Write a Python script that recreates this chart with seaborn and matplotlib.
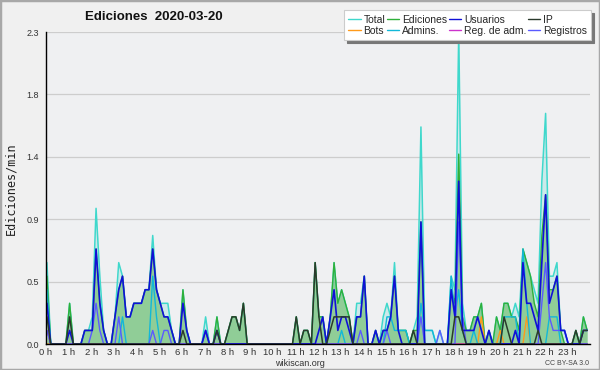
import numpy as np
import pandas as pd
import matplotlib
matplotlib.use("Agg")
import matplotlib.pyplot as plt
from matplotlib.lines import Line2D
from matplotlib.patches import Rectangle
import seaborn as sns

# ediciones por minuto, intervalos de 10 minutos (una fila = una hora)
total = [
    0.6, 0, 0, 0, 0, 0,          0.3, 0, 0, 0, 0.1, 0.1,
    0.2, 1.0, 0.5, 0.1, 0, 0,    0.2, 0.6, 0.5, 0.2, 0.2, 0.3,
    0.3, 0.3, 0.4, 0.4, 0.8, 0.4, 0.3, 0.3, 0.3, 0.1, 0, 0,
    0.4, 0.1, 0, 0, 0, 0,        0.2, 0, 0, 0.2, 0, 0,
    0.1, 0.2, 0.2, 0.1, 0.3, 0,  0, 0, 0, 0, 0, 0,
    0, 0, 0, 0, 0, 0,            0.2, 0, 0.1, 0.1, 0, 0.6,
    0.2, 0.2, 0, 0.2, 0.6, 0.3,  0.4, 0.3, 0.2, 0, 0.3, 0.3,
    0.5, 0, 0, 0.1, 0, 0.2,      0.3, 0.2, 0.6, 0.1, 0.1, 0.1,
    0, 0.1, 0.2, 1.6, 0.1, 0.1,  0.1, 0, 0.1, 0, 0, 0.5,
    0.4, 2.3, 0.3, 0.1, 0.1, 0.2, 0.2, 0.3, 0, 0.1, 0, 0.2,
    0.1, 0.3, 0.3, 0.2, 0.3, 0.2, 0.7, 0.6, 0.5, 0.4, 0.3, 1.2,
    1.7, 0.5, 0.5, 0.6, 0.1, 0.1, 0, 0, 0.1, 0, 0.2, 0.1,
]
ediciones = [
    0.5, 0, 0, 0, 0, 0,          0.3, 0, 0, 0, 0.1, 0.1,
    0.1, 0.7, 0.3, 0.1, 0, 0,    0.2, 0.4, 0.5, 0.2, 0.2, 0.3,
    0.3, 0.3, 0.4, 0.4, 0.7, 0.4, 0.3, 0.2, 0.2, 0.1, 0, 0,
    0.4, 0.1, 0, 0, 0, 0,        0.1, 0, 0, 0.2, 0, 0,
    0.1, 0.2, 0.2, 0.1, 0.3, 0,  0, 0, 0, 0, 0, 0,
    0, 0, 0, 0, 0, 0,            0.2, 0, 0.1, 0.1, 0, 0.6,
    0.2, 0.2, 0, 0.2, 0.6, 0.3,  0.4, 0.3, 0.2, 0, 0.2, 0.2,
    0.5, 0, 0, 0.1, 0, 0.1,      0.1, 0.2, 0.5, 0.1, 0.1, 0.1,
    0, 0.1, 0.1, 0.9, 0, 0,      0, 0, 0, 0, 0, 0.4,
    0.3, 1.4, 0.2, 0.1, 0.1, 0.2, 0.2, 0.3, 0, 0.1, 0, 0.2,
    0.1, 0.3, 0.3, 0.2, 0.2, 0.1, 0.7, 0.6, 0.5, 0.3, 0.2, 0.8,
    1.1, 0.4, 0.4, 0.5, 0.1, 0,  0, 0, 0.1, 0, 0.2, 0.1,
]
usuarios = [
    0.3, 0, 0, 0, 0, 0,          0.1, 0, 0, 0, 0.1, 0.1,
    0.1, 0.7, 0.3, 0.1, 0, 0,    0.2, 0.4, 0.5, 0.2, 0.2, 0.3,
    0.3, 0.3, 0.4, 0.4, 0.7, 0.4, 0.3, 0.2, 0.2, 0.1, 0, 0,
    0.3, 0.1, 0, 0, 0, 0,        0.1, 0, 0, 0.1, 0, 0,
    0, 0, 0, 0, 0, 0,            0, 0, 0, 0, 0, 0,
    0, 0, 0, 0, 0, 0,            0, 0, 0, 0, 0, 0,
    0.1, 0.2, 0, 0.2, 0.4, 0.1,  0.2, 0.2, 0.1, 0, 0.2, 0.2,
    0.5, 0, 0, 0.1, 0, 0.1,      0.1, 0.2, 0.5, 0.1, 0, 0,
    0, 0, 0, 0.9, 0, 0,          0, 0, 0, 0, 0, 0.4,
    0.2, 1.2, 0.1, 0.1, 0.1, 0.1, 0.2, 0.1, 0, 0.1, 0, 0,
    0, 0, 0, 0, 0.1, 0,          0.6, 0.3, 0.3, 0.2, 0.1, 0.6,
    1.1, 0.3, 0.4, 0.5, 0.1, 0.1, 0, 0, 0, 0, 0.1, 0.1,
]
ip = [
    0.2, 0, 0, 0, 0, 0,          0.2, 0, 0, 0, 0, 0,
    0, 0, 0, 0, 0, 0,            0, 0, 0, 0, 0, 0,
    0, 0, 0, 0, 0, 0,            0, 0, 0, 0, 0, 0,
    0.1, 0, 0, 0, 0, 0,          0, 0, 0, 0.1, 0, 0,
    0.1, 0.2, 0.2, 0.1, 0.3, 0,  0, 0, 0, 0, 0, 0,
    0, 0, 0, 0, 0, 0,            0.2, 0, 0.1, 0.1, 0, 0.6,
    0.2, 0, 0, 0.1, 0.2, 0.2,    0.2, 0.2, 0.2, 0, 0, 0,
    0, 0, 0, 0, 0, 0,            0, 0, 0, 0, 0, 0,
    0, 0.1, 0, 0, 0, 0,          0, 0, 0, 0, 0, 0,
    0.2, 0.2, 0.1, 0, 0, 0,      0, 0, 0, 0, 0, 0,
    0, 0.2, 0.1, 0, 0, 0,        0, 0, 0, 0, 0.1, 0,
    0, 0, 0, 0, 0, 0,            0, 0, 0.1, 0, 0.1, 0.1,
]
bots = [0] * 115 + [0.2, 0, 0, 0, 0, 0.1, 0, 0, 0, 0, 0, 0, 0.2] + [0] * 16
admins = [
    0.4, 0, 0, 0, 0, 0,          0, 0, 0, 0, 0, 0,
    0, 0, 0, 0, 0, 0,            0, 0, 0.2, 0, 0, 0,
    0, 0, 0, 0, 0.5, 0.2,        0, 0, 0, 0, 0, 0,
    0, 0, 0, 0, 0, 0,            0, 0, 0, 0, 0, 0,
    0, 0, 0, 0, 0, 0,            0, 0, 0, 0, 0, 0,
    0, 0, 0, 0, 0, 0,            0, 0, 0, 0, 0, 0,
    0, 0, 0, 0, 0, 0,            0.1, 0, 0, 0, 0, 0,
    0, 0, 0, 0, 0, 0,            0.2, 0.2, 0.1, 0.1, 0.1, 0.1,
    0, 0, 0, 0.3, 0.1, 0.1,      0.1, 0, 0, 0, 0, 0.5,
    0.2, 0.4, 0.1, 0, 0, 0.1,    0, 0, 0, 0, 0, 0,
    0, 0.2, 0.2, 0.2, 0.2, 0,    0.7, 0.3, 0, 0, 0, 0,
    0, 0.2, 0.2, 0.2, 0, 0,      0, 0, 0, 0, 0, 0,
]
reg_adm = [0.1] + [0] * 143
registros = [
    0.1, 0, 0, 0, 0, 0,          0, 0, 0, 0, 0, 0,
    0.1, 0.3, 0.1, 0, 0, 0,      0, 0.2, 0, 0, 0, 0,
    0, 0, 0, 0, 0.1, 0,          0, 0.1, 0.1, 0, 0, 0,
    0, 0, 0, 0, 0, 0,            0.1, 0, 0, 0, 0, 0,
    0, 0, 0, 0, 0, 0,            0, 0, 0, 0, 0, 0,
    0, 0, 0, 0, 0, 0,            0, 0, 0, 0, 0, 0,
    0, 0, 0, 0, 0, 0,            0, 0, 0, 0, 0, 0.1,
    0, 0, 0, 0, 0, 0,            0.1, 0, 0, 0, 0, 0,
    0, 0, 0, 0.2, 0, 0,          0, 0, 0.1, 0, 0, 0,
    0, 0.9, 0.2, 0, 0, 0,        0, 0, 0, 0, 0, 0,
    0, 0, 0, 0, 0, 0,            0, 0, 0, 0, 0, 0.3,
    0.6, 0.2, 0.1, 0.1, 0.1, 0.1, 0, 0, 0, 0, 0, 0,
]

horas = np.arange(144) / 6 + 1 / 24
hour_labels = [f"{h} h" for h in range(24)]

# (label, values, color, linewidth)
series = [
    ("Total", total, "#3fd8cc", 1.1),
    ("Ediciones", ediciones, "#2fb03a", 1.0),
    ("Bots", bots, "#ff9a1a", 1.0),
    ("Admins.", admins, "#12b8d8", 1.0),
    ("Reg. de adm.", reg_adm, "#cc33cc", 1.0),
    ("Registros", registros, "#5a5aff", 1.0),
    ("Usuarios", usuarios, "#1010d8", 1.2),
    ("IP", ip, "#2a3a2c", 1.1),
]
legend_order = ["Total", "Bots", "Ediciones", "Admins.", "Usuarios",
                "Reg. de adm.", "IP", "Registros"]

sns.set_style("white", {"axes.facecolor": "#eff0f2"})
plt.rcParams["font.family"] = ["Liberation Sans", "DejaVu Sans"]

fig = plt.figure(figsize=(6, 3.7), dpi=100, facecolor="#f0f0f0")
ax = fig.add_axes([46 / 600, 26 / 370, 544 / 600, 312 / 370])

ax.fill_between(horas, total, color="#8fdcdc", alpha=0.35, lw=0)
ax.fill_between(horas, ediciones, color="#7cc47c", alpha=0.75, lw=0)

colors = {}
for name, vals, col, lw in series:
    colors[name] = col
    sns.lineplot(x=horas, y=vals, color=col, linewidth=lw, ax=ax)

ax.set_xlim(0, 24)
ax.set_ylim(0, 2.3)
yt = np.linspace(0, 2.3, 6)
ax.set_yticks(yt)
ax.set_yticklabels([f"{v:.1f}" for v in yt])
ax.set_yticks(np.linspace(0, 2.3, 26), minor=True)
ax.set_xticks(np.arange(24))
ax.set_xticklabels(hour_labels)
ax.set_xticks(np.arange(0, 24, 1 / 6), minor=True)
ax.yaxis.grid(True, which="major", color="#cdcdcd", lw=0.9)
ax.xaxis.grid(False)
ax.set_axisbelow(True)
for s in ["top", "right"]:
    ax.spines[s].set_visible(False)
for s in ["left", "bottom"]:
    ax.spines[s].set_color("black")
    ax.spines[s].set_linewidth(1.0)
ax.tick_params(axis="both", which="major", direction="out", length=4,
               width=0.8, colors="black", labelsize=6.5, pad=1,
               labelcolor="#333333")
ax.tick_params(axis="both", which="minor", direction="out", length=2.5,
               width=0.8, colors="black")
ax.tick_params(axis="x", which="major", length=3, pad=0, labelsize=6.8)
ax.set_xlabel("")
ax.set_ylabel("")

fig.text(0.018, 0.49, "Ediciones/min", rotation=90, ha="center", va="center",
         fontsize=8.5, family=["DejaVu Sans Mono"], color="#222222")
fig.text(0.257, 0.955, "Ediciones  2020-03-20", ha="center", va="center",
         fontsize=9.5, fontweight="bold", color="#111111")
fig.text(0.5, 0.0165, "wikiscan.org", ha="center", va="center",
         fontsize=6.5, color="#333333")
fig.text(0.982, 0.0165, "CC BY-SA 3.0", ha="right", va="center",
         fontsize=5, color="#444444")

handles = [Line2D([], [], color=colors[n], lw=1.0) for n in legend_order]
leg = fig.legend(handles, legend_order, ncol=4, loc="upper right",
                 bbox_to_anchor=(0.985, 0.972), fontsize=7.5, frameon=True,
                 shadow={"color": "#777777", "alpha": 1.0}, fancybox=False,
                 handlelength=1.2, handletextpad=0.25, columnspacing=0.15,
                 labelspacing=0.1, borderpad=0.4, borderaxespad=0.0)
leg.get_frame().set_edgecolor("#cccccc")
leg.get_frame().set_linewidth(0.8)
leg.get_frame().set_facecolor("white")

fig.patches.append(Rectangle((0, 0), 1, 1, transform=fig.transFigure,
                             fill=False, edgecolor="#a8a8a8", lw=2.5))

fig.savefig("out.png", dpi=100, facecolor=fig.get_facecolor())
